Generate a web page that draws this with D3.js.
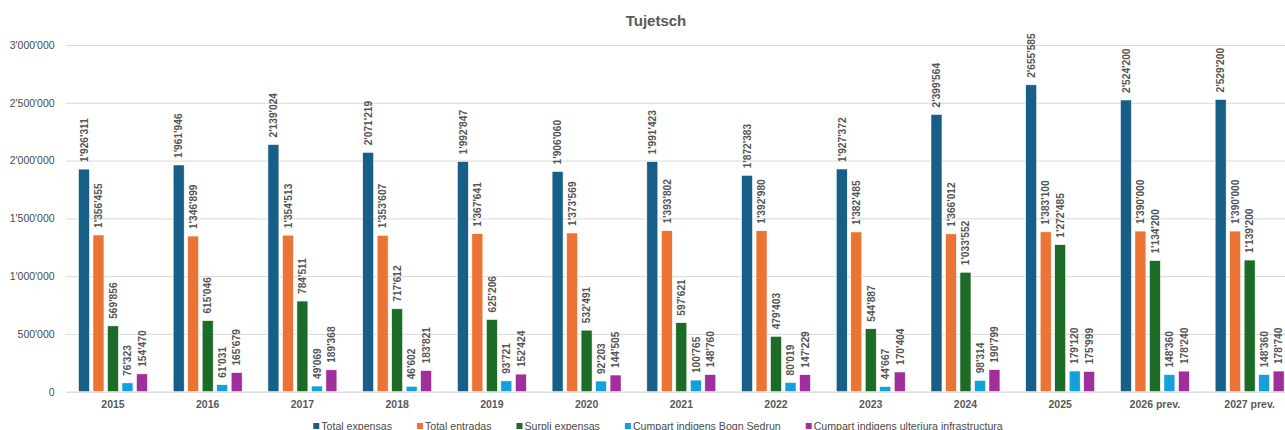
<!DOCTYPE html>
<html>
<head>
<meta charset="utf-8">
<script src="https://cdn.jsdelivr.net/npm/d3@7"></script>
<style>
    html, body { margin: 0; padding: 0; background: #fff; overflow: hidden; }
    #svg_container svg { display: block; }
</style>
</head>
<body>
<div id="svg_container"></div>
<script>
// Our data we're working with
const categories = ["2015", "2016", "2017", "2018", "2019", "2020", "2021", "2022", "2023", "2024", "2025", "2026 prev.", "2027 prev."];
const seriesNames = ["Total expensas", "Total entradas", "Surpli expensas", "Cumpart indigens Bogn Sedrun", "Cumpart indigens ulteriura infrastructura"];
const totalExpensas = [1926311, 1961946, 2139024, 2071219, 1992847, 1906060, 1991423, 1872383, 1927372, 2399564, 2655585, 2524200, 2529200];
const totalEntradas = [1356455, 1346899, 1354513, 1353607, 1367641, 1373569, 1393802, 1392980, 1382485, 1366012, 1383100, 1390000, 1390000];
const surpliExpensas = [569856, 615046, 784511, 717612, 625206, 532491, 597621, 479403, 544887, 1033552, 1272485, 1134200, 1139200];
const bognSedrun = [76323, 61031, 49069, 46602, 93721, 92203, 100765, 80019, 44667, 98314, 179120, 148360, 148360];
const ulteriuraInfra = [154470, 165679, 189368, 183821, 152424, 144505, 148760, 147229, 170404, 190799, 175999, 178240, 178740];
const yTicks = [0, 500000, 1000000, 1500000, 2000000, 2500000, 3000000];

function createChart() {
    const seriesValues = [totalExpensas, totalEntradas, surpliExpensas, bognSedrun, ulteriuraInfra];
    const colors = ["#175f87", "#eb7434", "#1c6b27", "#14a0dc", "#a12f9b"];

    // rows for the grouped bars
    let rows = categories.map((cat, i) => {
        return {
            cat: cat,
            values: seriesNames.map((name, s) => ({ key: name, value: seriesValues[s][i], color: colors[s] }))
        };
    });

    let width = 1285;
    let height = 430;
    const margin = { top: 45, right: -12, bottom: 38.3, left: 65.6 };

    const fmt = d3.formatLocale({ decimal: ".", thousands: "'", grouping: [3], currency: ["", ""] }).format(",d");

    const svg = d3.select('#svg_container').append("svg")
        .attr("width", width)
        .attr("height", height)
        .attr("viewBox", [0, 0, width, height])
        .style("font-family", "'Liberation Sans', Arial, sans-serif");

    const x0 = d3.scaleBand()
        .domain(categories)
        .range([margin.left, width - margin.right])
        .paddingInner(0.235)
        .paddingOuter(0.1175);

    const x1 = d3.scaleBand()
        .domain(seriesNames)
        .range([0, x0.bandwidth()])
        .paddingInner(0.24)
        .paddingOuter(0.12);

    const y = d3.scaleLinear()
        .domain([0, 3000000])
        .range([height - margin.bottom, margin.top]);

    // title
    svg.append("text")
        .attr("x", 656)
        .attr("y", 26)
        .attr("text-anchor", "middle")
        .attr("fill", "#595959")
        .attr("font-size", 15)
        .attr("font-weight", "bold")
        .text("Tujetsch");

    // gridlines + y labels
    const yAxis = svg.append("g")
        .attr("transform", `translate(${margin.left},0)`)
        .call(d3.axisLeft(y).tickValues(yTicks).tickFormat(fmt)
            .tickSize(-(width - margin.right - margin.left)).tickPadding(11));
    yAxis.select(".domain").remove();
    yAxis.selectAll(".tick line").attr("stroke", "#d9d9d9").attr("stroke-width", 1);
    yAxis.selectAll(".tick text")
        .attr("fill", "#4a4a4a")
        .attr("font-size", 10.5)
        .attr("font-family", "'Liberation Sans', Arial, sans-serif");

    // x labels
    const xAxis = svg.append("g")
        .attr("transform", `translate(0,${height - margin.bottom})`)
        .call(d3.axisBottom(x0).tickSize(0).tickPadding(9));
    xAxis.select(".domain").attr("stroke", "#d9d9d9");
    xAxis.selectAll(".tick text")
        .attr("fill", "#595959")
        .attr("font-size", 10.5)
        .attr("font-weight", "bold")
        .attr("font-family", "'Liberation Sans', Arial, sans-serif");

    const group = svg.append("g")
        .selectAll("g")
        .data(rows)
        .join("g")
        .attr("transform", d => `translate(${x0(d.cat)},0)`);

    group.selectAll("rect")
        .data(d => d.values)
        .join("rect")
        .attr("x", d => x1(d.key))
        .attr("y", d => y(d.value))
        .attr("width", x1.bandwidth())
        .attr("height", d => y(0) - y(d.value))
        .attr("fill", d => d.color)
        .attr("stroke", "#ffffff")
        .attr("stroke-width", 0.6);

    // data labels, rotated
    group.selectAll("text.lbl")
        .data(d => d.values)
        .join("text")
        .attr("class", "lbl")
        .attr("transform", d => `translate(${x1(d.key) + x1.bandwidth() / 2 + 3.8},${y(d.value) - 7}) rotate(-90)`)
        .attr("fill", "#555555")
        .attr("font-size", 10.2)
        .attr("font-weight", "bold")
        .text(d => fmt(d.value));

    // legend
    const legend = svg.append("g");
    let lx = 0;
    seriesNames.forEach((name, i) => {
        const item = legend.append("g").attr("transform", `translate(${lx},0)`);
        item.append("rect")
            .attr("x", 0)
            .attr("y", -6.5)
            .attr("width", 6)
            .attr("height", 6)
            .attr("fill", colors[i]);
        const t = item.append("text")
            .attr("x", 8)
            .attr("y", 0)
            .attr("fill", "#4a4a4a")
            .attr("font-size", 10.6)
            .text(name);
        lx += 8 + t.node().getComputedTextLength() + 25;
    });
    const legendWidth = lx - 25;
    legend.attr("transform", `translate(${658 - legendWidth / 2},429.5)`);
}

document.addEventListener('DOMContentLoaded', function (e) {
    createChart();
});
</script>
</body>
</html>
